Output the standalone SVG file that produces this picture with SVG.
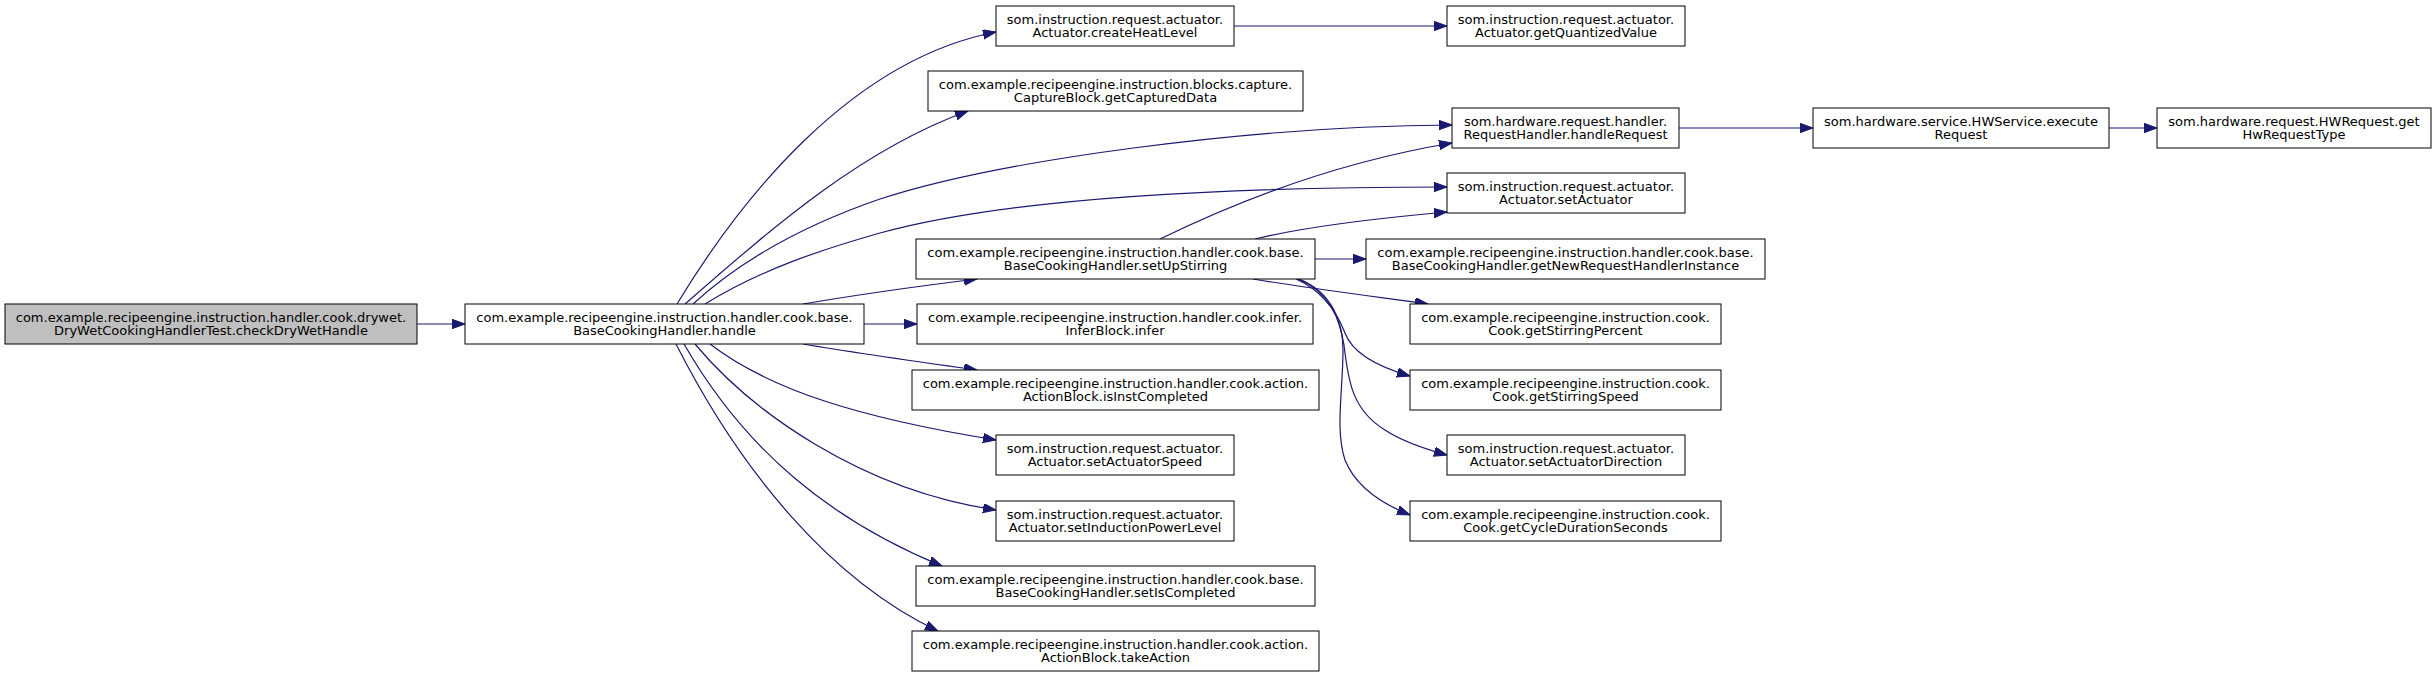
<svg xmlns="http://www.w3.org/2000/svg" width="2436" height="677" viewBox="0 0 2436 677">
<style>
.node rect{fill:#ffffff;stroke:#000000;stroke-width:1}
.node.root rect{fill:#bfbfbf}
.node text{font-family:"DejaVu Sans",sans-serif;font-size:13px;fill:#000000;text-anchor:middle}
.edges path{fill:none;stroke:#191970;stroke-width:1.2;marker-end:url(#arr)}
</style>
<defs>
<marker id="arr" markerUnits="userSpaceOnUse" markerWidth="14" markerHeight="11" refX="13" refY="4.7" orient="auto">
<path d="M0,0 L13,4.7 L0,9.4 z" fill="#191970" stroke="#191970" stroke-width="1"/>
</marker>
</defs>
<rect width="2436" height="677" fill="#ffffff"/>
<g class="edges">
<path d="M417,324 L465,324"/>
<path d="M677,304 C740,200 850,60 996,32"/>
<path d="M685,304 C770,230 860,150 968,111"/>
<path d="M693,304 C730,270 790,230 880,199 C1000,160 1250,126 1452,125"/>
<path d="M705,304 C760,270 820,250 880,233 C1000,200 1200,187 1447,187"/>
<path d="M803,304 C850,296 920,286 977,279"/>
<path d="M864,324 L917,324"/>
<path d="M803,344 C850,352 920,362 977,370"/>
<path d="M710,344 C770,390 860,418 996,440"/>
<path d="M695,344 C750,410 860,490 996,510"/>
<path d="M684,344 C745,450 830,520 942,566"/>
<path d="M676,344 C740,470 830,580 938,631"/>
<path d="M1234,26 L1447,26"/>
<path d="M1679,128 L1813,128"/>
<path d="M2109,128 L2157,128"/>
<path d="M1160,239 C1250,195 1350,160 1452,143"/>
<path d="M1255,239 C1300,228 1380,218 1447,212"/>
<path d="M1315,259 L1366,259"/>
<path d="M1253,279 C1300,287 1370,296 1428,304"/>
<path d="M1296,279 C1325,292 1338,315 1345,333 C1352,352 1375,366 1410,376"/>
<path d="M1298,279 C1330,292 1340,320 1344,345 C1348,380 1352,410 1385,430 C1400,440 1425,449 1447,455"/>
<path d="M1299,279 C1332,292 1343,322 1343,350 C1343,390 1335,430 1345,460 C1355,485 1380,503 1410,515"/>
</g>
<g id="n0" class="node root"><rect x="5" y="304" width="412" height="40"/><text x="211" y="321.5">com.example.recipeengine.instruction.handler.cook.drywet.</text><text x="211" y="335">DryWetCookingHandlerTest.checkDryWetHandle</text></g>
<g id="n1" class="node"><rect x="465" y="304" width="399" height="40"/><text x="664.5" y="321.5">com.example.recipeengine.instruction.handler.cook.base.</text><text x="664.5" y="335">BaseCookingHandler.handle</text></g>
<g id="n2" class="node"><rect x="996" y="6" width="238" height="40"/><text x="1115" y="23.5">som.instruction.request.actuator.</text><text x="1115" y="37">Actuator.createHeatLevel</text></g>
<g id="n3" class="node"><rect x="1447" y="6" width="238" height="40"/><text x="1566" y="23.5">som.instruction.request.actuator.</text><text x="1566" y="37">Actuator.getQuantizedValue</text></g>
<g id="n4" class="node"><rect x="928" y="71" width="375" height="40"/><text x="1115.5" y="88.5">com.example.recipeengine.instruction.blocks.capture.</text><text x="1115.5" y="102">CaptureBlock.getCapturedData</text></g>
<g id="n5" class="node"><rect x="1452" y="108" width="227" height="40"/><text x="1565.5" y="125.5">som.hardware.request.handler.</text><text x="1565.5" y="139">RequestHandler.handleRequest</text></g>
<g id="n6" class="node"><rect x="1813" y="108" width="296" height="40"/><text x="1961" y="125.5">som.hardware.service.HWService.execute</text><text x="1961" y="139">Request</text></g>
<g id="n7" class="node"><rect x="2157" y="108" width="274" height="40"/><text x="2294" y="125.5">som.hardware.request.HWRequest.get</text><text x="2294" y="139">HwRequestType</text></g>
<g id="n8" class="node"><rect x="1447" y="173" width="238" height="40"/><text x="1566" y="190.5">som.instruction.request.actuator.</text><text x="1566" y="204">Actuator.setActuator</text></g>
<g id="n9" class="node"><rect x="916" y="239" width="399" height="40"/><text x="1115.5" y="256.5">com.example.recipeengine.instruction.handler.cook.base.</text><text x="1115.5" y="270">BaseCookingHandler.setUpStirring</text></g>
<g id="n10" class="node"><rect x="1366" y="239" width="399" height="40"/><text x="1565.5" y="256.5">com.example.recipeengine.instruction.handler.cook.base.</text><text x="1565.5" y="270">BaseCookingHandler.getNewRequestHandlerInstance</text></g>
<g id="n11" class="node"><rect x="917" y="304" width="396" height="40"/><text x="1115" y="321.5">com.example.recipeengine.instruction.handler.cook.infer.</text><text x="1115" y="335">InferBlock.infer</text></g>
<g id="n12" class="node"><rect x="1410" y="304" width="311" height="40"/><text x="1565.5" y="321.5">com.example.recipeengine.instruction.cook.</text><text x="1565.5" y="335">Cook.getStirringPercent</text></g>
<g id="n13" class="node"><rect x="912" y="370" width="407" height="40"/><text x="1115.5" y="387.5">com.example.recipeengine.instruction.handler.cook.action.</text><text x="1115.5" y="401">ActionBlock.isInstCompleted</text></g>
<g id="n14" class="node"><rect x="1410" y="370" width="311" height="40"/><text x="1565.5" y="387.5">com.example.recipeengine.instruction.cook.</text><text x="1565.5" y="401">Cook.getStirringSpeed</text></g>
<g id="n15" class="node"><rect x="996" y="435" width="238" height="40"/><text x="1115" y="452.5">som.instruction.request.actuator.</text><text x="1115" y="466">Actuator.setActuatorSpeed</text></g>
<g id="n16" class="node"><rect x="1447" y="435" width="238" height="40"/><text x="1566" y="452.5">som.instruction.request.actuator.</text><text x="1566" y="466">Actuator.setActuatorDirection</text></g>
<g id="n17" class="node"><rect x="996" y="501" width="238" height="40"/><text x="1115" y="518.5">som.instruction.request.actuator.</text><text x="1115" y="532">Actuator.setInductionPowerLevel</text></g>
<g id="n18" class="node"><rect x="1410" y="501" width="311" height="40"/><text x="1565.5" y="518.5">com.example.recipeengine.instruction.cook.</text><text x="1565.5" y="532">Cook.getCycleDurationSeconds</text></g>
<g id="n19" class="node"><rect x="916" y="566" width="399" height="40"/><text x="1115.5" y="583.5">com.example.recipeengine.instruction.handler.cook.base.</text><text x="1115.5" y="597">BaseCookingHandler.setIsCompleted</text></g>
<g id="n20" class="node"><rect x="912" y="631" width="407" height="40"/><text x="1115.5" y="648.5">com.example.recipeengine.instruction.handler.cook.action.</text><text x="1115.5" y="662">ActionBlock.takeAction</text></g>
</svg>
